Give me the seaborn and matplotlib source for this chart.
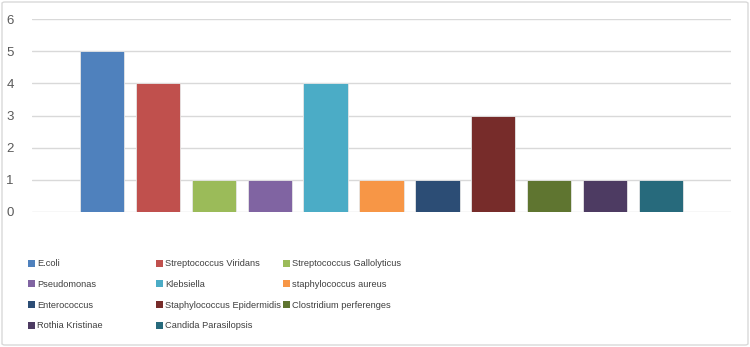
import matplotlib
matplotlib.use("Agg")
import matplotlib.pyplot as plt
import seaborn as sns
import pandas as pd
from matplotlib.patches import Patch, FancyBboxPatch

categories = ["E.coli", "Streptococcus Viridans", "Streptococcus Gallolyticus",
              "Pseudomonas", "Klebsiella", "staphylococcus aureus",
              "Enterococcus", "Staphylococcus Epidermidis", "Clostridium perferenges",
              "Rothia Kristinae", "Candida Parasilopsis"]
values = [5, 4, 1, 1, 4, 1, 1, 3, 1, 1, 1]
colors = ["#4F81BD", "#C0504D", "#9BBB59", "#8064A2", "#4BACC6", "#F79646",
          "#2C4D75", "#772C2A", "#5F7530", "#4D3B62", "#276A7C"]
yticks = [0, 1, 2, 3, 4, 5, 6]

sns.set_theme(style="white")
plt.rcParams['font.family'] = ['Liberation Sans', 'DejaVu Sans']

df = pd.DataFrame({"cat": categories, "val": values})

fig = plt.figure(figsize=(7.5, 3.47), dpi=100)
ax = fig.add_axes([32/750, 1-212/347, (731-32)/750, (212-19)/347])

sns.barplot(data=df, x="cat", y="val", hue="cat", palette=colors, order=categories,
            hue_order=categories, dodge=False, legend=False, width=0.79,
            saturation=1, edgecolor="#e6e6e6", linewidth=0.6, ax=ax, zorder=3)

ax.set_xlim(-1.25, 11.25)
ax.set_ylim(0, 6)
ax.set_yticks(yticks)
ax.set_yticklabels([str(t) for t in yticks], fontsize=9.5, color="#595959")
ax.set_xticks([])
ax.set_xlabel("")
ax.set_ylabel("")
for s in ax.spines.values():
    s.set_visible(False)
ax.grid(axis="y", color="#d9d9d9", linewidth=1, zorder=0)
ax.tick_params(axis="y", length=0, pad=13)

# legend: three uniform-width columns, row-major order
col_x = [28/750, 156/750, 283/750]
for c in range(3):
    idx = list(range(c, len(categories), 3))
    handles = [Patch(facecolor=colors[i], edgecolor="none") for i in idx]
    labels = [categories[i] for i in idx]
    fig.legend(handles, labels, ncol=1, loc="upper left",
               bbox_to_anchor=(col_x[c], 1-259.5/347), frameon=False,
               fontsize=6.7, handlelength=0.75, handleheight=0.75,
               handletextpad=0.25, labelspacing=1.25,
               labelcolor="#404040", borderpad=0, borderaxespad=0)

# outer border
fig.patches.append(FancyBboxPatch((2/750, 2/347), 746/750, 343/347,
                                  boxstyle="round,pad=0,rounding_size=0.004",
                                  transform=fig.transFigure, fill=False,
                                  edgecolor="#d9d9d9", linewidth=1))

fig.savefig("out.png", dpi=100)
